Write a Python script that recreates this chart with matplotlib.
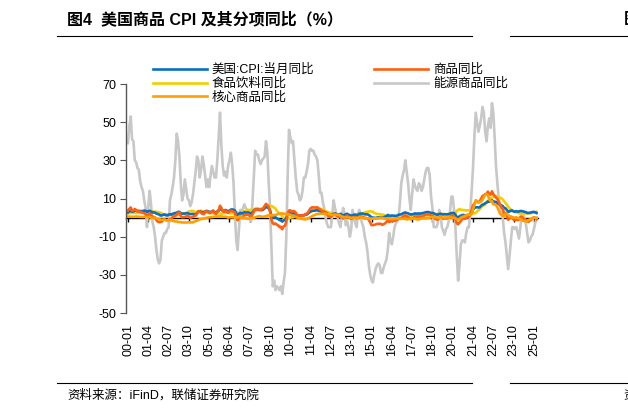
import numpy as np
import matplotlib
matplotlib.use('Agg')
import matplotlib.pyplot as plt

plt.rcParams['font.family'] = ['Liberation Sans', 'Noto Sans CJK SC']
plt.rcParams['axes.unicode_minus'] = False

# 月度数据 2000-01 ~ 2025-03，同比 %
cpi = [2.7, 3.2, 3.8, 3.1, 3.2, 3.7, 3.7, 3.4, 3.5, 3.4, 3.4, 3.4,
       3.7, 3.5, 2.9, 3.3, 3.6, 3.2, 2.7, 2.7, 2.6, 2.1, 1.9, 1.6,
       1.1, 1.1, 1.5, 1.6, 1.2, 1.1, 1.5, 1.8, 1.5, 2.0, 2.2, 2.4,
       2.6, 3.0, 3.0, 2.2, 2.1, 2.1, 2.1, 2.2, 2.3, 2.0, 1.8, 1.9,
       1.9, 1.7, 1.7, 2.3, 3.1, 3.3, 3.0, 2.7, 2.5, 3.2, 3.5, 3.3,
       3.0, 3.0, 3.1, 3.5, 2.8, 2.5, 3.2, 3.6, 4.7, 4.3, 3.5, 3.4,
       4.0, 3.6, 3.4, 3.5, 4.2, 4.3, 4.1, 3.8, 2.1, 1.3, 2.0, 2.5,
       2.1, 2.4, 2.8, 2.6, 2.7, 2.7, 2.4, 2.0, 2.8, 3.5, 4.3, 4.1,
       4.3, 4.0, 4.0, 3.9, 4.2, 5.0, 5.6, 5.4, 4.9, 3.7, 1.1, 0.1,
       0.0, 0.2, -0.4, -0.7, -1.3, -1.4, -2.1, -1.5, -1.3, -0.2, 1.8, 2.7,
       2.6, 2.1, 2.3, 2.2, 2.0, 1.1, 1.2, 1.1, 1.1, 1.2, 1.1, 1.5,
       1.6, 2.1, 2.7, 3.2, 3.6, 3.6, 3.6, 3.8, 3.9, 3.5, 3.4, 3.0,
       2.9, 2.9, 2.7, 2.3, 1.7, 1.7, 1.4, 1.7, 2.0, 2.2, 1.8, 1.7,
       1.6, 2.0, 1.5, 1.1, 1.4, 1.8, 2.0, 1.5, 1.2, 1.0, 1.2, 1.5,
       1.6, 1.1, 1.5, 2.0, 2.1, 2.1, 2.0, 1.7, 1.7, 1.7, 1.3, 0.8,
       -0.1, 0.0, -0.1, -0.2, 0.0, 0.1, 0.2, 0.2, 0.0, 0.2, 0.5, 0.7,
       1.4, 1.0, 0.9, 1.1, 1.0, 1.0, 0.8, 1.1, 1.5, 1.6, 1.7, 2.1,
       2.5, 2.7, 2.4, 2.2, 1.9, 1.6, 1.7, 1.9, 2.2, 2.0, 2.2, 2.1,
       2.1, 2.2, 2.4, 2.5, 2.8, 2.9, 2.9, 2.7, 2.3, 2.5, 2.2, 1.9,
       1.6, 1.5, 1.9, 2.0, 1.8, 1.6, 1.8, 1.7, 1.7, 1.8, 2.1, 2.3,
       2.5, 2.3, 1.5, 0.3, 0.1, 0.6, 1.0, 1.3, 1.4, 1.2, 1.2, 1.4,
       1.4, 1.7, 2.6, 4.2, 5.0, 5.4, 5.4, 5.3, 5.4, 6.2, 6.8, 7.0,
       7.5, 7.9, 8.5, 8.3, 8.6, 9.1, 8.5, 8.3, 8.2, 7.7, 7.1, 6.5,
       6.4, 6.0, 5.0, 4.9, 4.0, 3.0, 3.2, 3.7, 3.7, 3.2, 3.1, 3.4,
       3.1, 3.2, 3.5, 3.4, 3.3, 3.0, 2.9, 2.5, 2.4, 2.6, 2.7, 2.9,
       3.0, 2.8, 2.4]

goods = [3.8, 4.6, 5.3, 3.6, 3.7, 4.5, 4.0, 3.2, 3.5, 3.0, 2.8, 2.4,
         2.3, 1.7, 0.8, 1.4, 2.2, 1.5, 0.2, 0.4, 0.1, -1.3, -2.1, -2.4,
         -2.3, -2.1, -1.2, -0.8, -1.2, -1.4, -1.2, -0.8, -1.0, 0.3, 0.6, 0.9,
         1.6, 2.5, 2.6, 0.8, 0.1, 0.3, 0.3, 0.6, 1.1, 0.3, -0.1, 0.1,
         0.4, 0.9, 1.0, 2.0, 3.3, 3.2, 2.5, 2.0, 1.8, 2.9, 3.5, 3.0,
         2.4, 2.6, 3.1, 3.7, 2.4, 1.9, 3.2, 4.0, 6.2, 5.1, 3.5, 3.0,
         3.7, 3.0, 2.5, 3.2, 3.6, 3.4, 3.1, 2.6, 0.0, -1.4, -0.3, 0.6,
         0.1, 0.6, 1.5, 1.3, 1.5, 1.5, 1.0, 0.2, 1.6, 2.9, 4.4, 4.0,
         4.3, 4.0, 4.2, 4.2, 4.8, 6.1, 7.2, 6.6, 5.5, 3.2, -1.1, -3.0,
         -3.4, -3.1, -3.7, -4.1, -5.0, -4.8, -6.1, -4.6, -4.3, -2.1, 2.0, 3.7,
         3.8, 3.1, 3.5, 3.3, 2.6, 1.0, 1.2, 1.0, 0.9, 1.2, 1.1, 1.8,
         2.1, 2.6, 3.9, 4.9, 5.4, 5.3, 5.3, 5.3, 5.4, 4.7, 4.3, 3.7,
         3.3, 3.2, 2.6, 1.8, 0.8, 0.5, 0.3, 1.1, 1.8, 2.0, 1.0, 0.7,
         0.3, 1.1, 0.2, -0.4, 0.0, 0.6, 1.1, 0.3, -0.1, -0.6, -0.4, 0.2,
         0.3, -0.4, 0.0, 0.6, 0.6, 0.5, 0.3, -0.3, -0.2, -0.4, -1.3, -2.5,
         -4.0, -3.9, -3.8, -3.6, -3.3, -3.3, -3.2, -3.3, -3.8, -3.4, -3.0, -2.3,
         -1.4, -2.3, -2.0, -1.8, -1.7, -1.7, -1.5, -1.1, -0.6, -0.3, -0.2, 0.3,
         1.0, 1.2, 0.7, 0.3, -0.3, -0.7, -0.6, -0.3, 0.6, 0.4, 0.6, 0.6,
         0.5, 0.5, 0.5, 1.2, 1.6, 1.8, 1.7, 1.5, 0.8, 0.8, 0.1, -0.6,
         -1.0, -1.0, -0.1, 0.5, 0.1, -0.6, -0.2, -0.4, -0.4, 0.0, 0.4, 0.9,
         1.1, 0.5, -0.8, -3.0, -3.5, -2.6, -1.8, -0.8, -0.5, -0.6, -0.3, 0.1,
         0.5, 1.4, 3.8, 6.3, 7.4, 8.4, 8.4, 8.2, 8.5, 9.9, 11.3, 11.6,
         12.3, 12.3, 13.6, 12.3, 12.0, 13.8, 12.3, 11.3, 10.5, 9.8, 8.3, 6.7,
         5.3, 4.7, 2.0, 2.4, 0.9, -1.1, -0.3, 0.5, 0.2, -1.1, -1.4, -0.6,
         -1.3, -1.0, 0.4, 0.4, -0.2, -1.1, -1.0, -1.9, -2.2, -1.6, -1.2, -0.2,
         0.1, -0.2, -0.9]

food = [2.1, 2.3, 2.4, 2.4, 2.5, 2.4, 2.3, 2.4, 2.5, 2.4, 2.6, 2.7,
        2.9, 3.0, 2.9, 3.2, 3.3, 3.1, 3.1, 3.2, 3.1, 3.0, 2.9, 2.8,
        2.6, 2.2, 1.8, 1.7, 1.8, 1.6, 1.5, 1.4, 1.4, 1.6, 1.5, 1.5,
        1.3, 1.3, 1.6, 2.0, 2.0, 2.2, 2.1, 2.5, 2.7, 3.2, 3.4, 3.5,
        3.5, 3.1, 2.8, 3.1, 3.3, 3.5, 3.6, 3.4, 3.2, 2.9, 2.7, 2.7,
        2.4, 2.3, 2.5, 2.3, 2.5, 2.2, 2.1, 2.2, 2.2, 2.0, 2.1, 2.3,
        2.4, 2.6, 2.6, 2.2, 2.2, 2.2, 2.2, 2.2, 2.3, 2.7, 2.1, 2.1,
        2.8, 3.1, 3.2, 3.5, 4.0, 4.0, 4.0, 4.0, 4.1, 4.2, 4.7, 4.9,
        4.9, 4.6, 4.5, 4.9, 5.1, 5.3, 5.8, 6.1, 6.2, 6.2, 6.0, 5.8,
        5.2, 4.8, 3.5, 2.9, 2.0, 1.6, 0.6, -0.1, -0.4, -0.5, -0.5, -0.5,
        -0.1, 0.3, 0.1, 0.5, 0.7, 0.6, 0.8, 1.0, 1.2, 1.3, 1.5, 1.6,
        1.8, 2.1, 2.8, 3.0, 3.2, 3.6, 3.9, 4.1, 4.5, 4.6, 4.6, 4.5,
        4.2, 3.8, 3.2, 3.1, 2.8, 2.6, 2.3, 2.0, 1.6, 1.7, 1.8, 1.7,
        1.6, 1.6, 1.5, 1.5, 1.4, 1.4, 1.3, 1.4, 1.4, 1.3, 1.3, 1.2,
        1.3, 1.4, 1.7, 2.0, 2.4, 2.3, 2.3, 2.6, 3.0, 3.0, 3.2, 3.4,
        3.1, 3.1, 2.4, 2.2, 1.8, 1.9, 1.8, 1.6, 1.6, 1.4, 1.2, 0.8,
        0.8, 0.8, 0.8, 0.7, 0.6, 0.3, 0.2, 0.0, -0.1, -0.2, -0.2, -0.2,
        -0.1, 0.0, 0.4, 0.5, 0.8, 0.9, 1.0, 1.1, 1.2, 1.3, 1.4, 1.6,
        1.6, 1.3, 1.3, 1.4, 1.2, 1.4, 1.3, 1.4, 1.4, 1.2, 1.4, 1.6,
        1.6, 2.0, 2.0, 1.8, 1.9, 1.9, 1.8, 1.7, 1.8, 2.0, 2.0, 1.8,
        1.8, 1.8, 1.9, 3.5, 4.0, 4.5, 4.1, 4.1, 3.9, 3.9, 3.7, 3.9,
        3.7, 3.5, 3.4, 2.4, 2.2, 2.4, 3.3, 3.7, 4.5, 5.3, 6.1, 6.3,
        7.0, 7.9, 8.8, 9.4, 10.1, 10.4, 10.9, 11.4, 11.2, 10.9, 10.6, 10.4,
        10.1, 9.5, 8.5, 7.7, 6.7, 5.7, 4.9, 4.3, 3.7, 3.3, 2.9, 2.7,
        2.6, 2.2, 2.2, 2.2, 2.1, 2.2, 2.2, 2.1, 2.3, 2.1, 2.4, 2.5,
        2.5, 2.6, 3.0]

energy = [39, 48, 53, 41, 40, 30, 29, 26, 25, 19, 16, 14,
          9, 5, -5, 6, 14, 7, -2, -5, -10, -17, -22, -24,
          -22, -12, -10, -8, -8, -6, -5, 9, 12, 16, 21, 30,
          44, 40, 32, 18, 9, 12, 20, 15, 10, 9, 6, 8,
          12, 18, 24, 32, 30, 21, 25, 32, 28, 22, 16, 20,
          16, 22, 27, 24, 21, 21, 30, 42, 55, 38, 27, 22,
          24, 21, 27, 30, 34, 28, 18, 2, -12, -17, -6, 4,
          2, 5, 7, 5, 4, 3, 0, -2, 8, 22, 35, 33,
          33, 30, 28, 30, 31, 32, 40, 34, 18, 5, -15, -36,
          -33, -38, -36, -37, -38, -36, -40, -34, -29, -10, 22, 46,
          42, 39, 40, 30, 21, 14, 12, 9, 10, 14, 21, 21,
          24, 28, 35, 36, 35, 35, 33, 32, 30, 22, 13, 13,
          8, 5, 0, -3, -5, -5, -5, 2, 9, 5, 2, 0,
          -3, -5, 0, 5, 2, -4, -2, -5, -10, -6, 4, 0,
          -3, -5, 2, 4, 0, -3, -5, -10, -13, -18, -25, -30,
          -33, -34, -30, -27, -25, -24, -25, -29, -29, -26, -24, -22,
          -17, -8, -12, -14, -10, -5, -3, -2, 0, 8, 18, 22,
          25, 30, 24, 18, 10, 4, 12, 20, 17, 15, 14, 18,
          17, 14, 16, 20, 24, 26, 26, 22, 11, 5, -5, -5,
          -5, -3, 4, 2, -5, -7, -9, -6, -5, -2, 3, 11,
          11, 4, -5, -20, -33, -25, -14, -12, -12, -13, -8, -5,
          -5, 3, 14, 26, 42, 55, 50, 45, 48, 52, 58, 55,
          45, 40, 48, 52, 47, 60, 55, 42, 27, 18, 10, 7,
          3, 0, -8, -13, -20, -27, -20, -12, -5, -5, -6, -5,
          -8, -11, -5, 2, 2, 0, -3, -8, -13, -12, -10, -9,
          -6, -3, 0]

core = [0.5, 0.5, 0.5, 0.4, 0.5, 0.4, 0.6, 0.4, 0.5, 0.3, 0.4, 0.3,
        0.4, 0.3, 0.3, 0.2, 0.2, 0.0, -0.2, -0.2, 0.1, -0.4, -0.7, -0.9,
        -1.0, -1.1, -1.1, -1.1, -1.4, -1.5, -1.4, -1.3, -1.4, -1.7, -1.9, -2.0,
        -2.0, -2.3, -2.3, -2.4, -2.6, -2.5, -2.6, -2.6, -2.5, -2.4, -2.6, -2.5,
        -2.5, -2.1, -1.9, -1.6, -1.2, -0.9, -0.8, -0.7, -0.5, -0.3, -0.1, 0.0,
        0.1, 0.2, 0.3, 0.3, 0.5, 0.6, 0.5, 0.6, 0.7, 0.6, 0.5, 0.4,
        0.5, 0.3, 0.0, 0.1, 0.3, 0.1, 0.2, 0.3, 0.1, 0.0, 0.4, 0.5,
        0.0, -0.2, -0.2, -0.3, -0.6, -0.6, -0.4, -0.3, -0.2, -0.1, 0.1, 0.4,
        0.5, 0.8, 0.6, 0.4, 0.5, 0.6, 0.7, 1.1, 1.1, 1.3, 1.2, 1.1,
        1.4, 1.4, 1.6, 1.9, 2.1, 2.2, 2.2, 2.0, 2.0, 1.9, 1.7, 1.6,
        1.6, 1.1, 0.8, 0.6, 0.3, 0.0, -0.3, -0.5, -0.6, -0.7, -0.9, -0.9,
        -0.8, -0.4, -0.1, 0.3, 0.7, 1.1, 1.3, 1.7, 1.9, 1.9, 2.0, 2.0,
        2.0, 2.0, 2.0, 2.0, 1.9, 1.8, 1.6, 1.4, 1.3, 1.4, 1.4, 1.5,
        1.5, 0.9, 0.6, 0.4, 0.1, 0.1, 0.1, 0.0, -0.1, -0.1, -0.1, -0.1,
        -0.2, -0.2, -0.1, 0.1, 0.1, 0.0, -0.2, -0.2, -0.3, -0.4, -0.5, -0.5,
        -0.5, -0.6, -0.4, -0.3, -0.4, -0.4, -0.1, 0.0, -0.1, -0.4, -0.5, -0.5,
        -0.4, -0.3, -0.4, -0.7, -0.8, -0.6, -0.6, -0.4, -0.5, -0.7, -0.7, -0.6,
        -0.7, -0.6, -1.0, -0.8, -0.6, -0.9, -0.6, -0.5, -0.4, -0.9, -0.9, -1.0,
        -0.6, -0.4, -0.3, -0.3, -0.3, -0.1, -0.1, -0.1, 0.2, 0.2, 0.2, 0.2,
        0.1, -0.1, -0.1, 0.1, 0.1, 0.0, 0.0, 0.1, 0.1, 0.1, 0.1, 0.0,
        -0.1, -0.1, -0.3, -0.9, -1.0, -0.7, -0.1, 0.4, 0.4, 1.0, 1.1, 1.4,
        1.7, 1.3, 1.7, 4.4, 6.5, 9.1, 8.7, 7.8, 8.2, 8.4, 9.4, 10.7,
        11.7, 12.3, 11.7, 9.7, 8.5, 8.6, 7.0, 7.0, 6.6, 5.4, 3.7, 2.1,
        1.3, 1.0, 0.6, 2.0, 2.0, 1.3, 0.8, 0.2, 0.0, 0.0, 0.0, 0.2,
        -0.3, -0.3, -0.7, -1.2, -1.7, -1.8, -1.9, -1.9, -1.2, -1.0, -0.7, -0.5,
        -0.1, -0.1, -0.1]

tick_labels = ['00-01', '01-04', '02-07', '03-10', '05-01', '06-04', '07-07',
               '08-10', '10-01', '11-04', '12-07', '13-10', '15-01', '16-04',
               '17-07', '18-10', '20-01', '21-04', '22-07', '23-10', '25-01']

x = np.arange(len(cpi))
tick_pos = np.arange(len(tick_labels)) * 15

fig = plt.figure(figsize=(6.28, 4.13), dpi=100)
ax = fig.add_axes([0.2006, 0.2421, 0.656, 0.5545])

lw = 1.9
l_energy, = ax.plot(x, energy, color='#c8c8c8', lw=lw, label='能源商品同比')
l_food, = ax.plot(x, food, color='#f2cf00', lw=lw, label='食品饮料同比')
l_cpi, = ax.plot(x, cpi, color='#0a6fc2', lw=lw, label='美国:CPI:当月同比')
l_goods, = ax.plot(x, goods, color='#ff5f0f', lw=lw, label='商品同比')
l_core, = ax.plot(x, core, color='#ffa000', lw=lw, label='核心商品同比')

ax.set_ylim(-50, 70)
ax.set_yticks([-50, -30, -10, 10, 30, 50, 70])
ax.set_xlim(-1.5, 303)
ax.set_xticks(tick_pos)
ax.set_xticklabels(tick_labels, rotation=90, fontsize=9)
ax.tick_params(axis='x', length=0, pad=8)
ax.tick_params(axis='y', labelsize=9, length=4, color='#555555', pad=3)

for s in ['top', 'right', 'bottom']:
    ax.spines[s].set_visible(False)
ax.spines['left'].set_color('#555555')
ax.spines['left'].set_linewidth(1.0)

# 零轴带刻度
zero_ax = ax.secondary_xaxis(50 / 120)
zero_ax.set_xticks(tick_pos)
zero_ax.set_xticklabels([])
zero_ax.tick_params(length=3, width=1, direction='out', color='black')
zero_ax.spines['bottom'].set_color('black')
zero_ax.spines['bottom'].set_linewidth(1.0)

handles = [l_cpi, l_food, l_core, l_goods, l_energy]
ax.legend(handles=handles, labels=[h.get_label() for h in handles], ncol=2,
          loc='upper left', bbox_to_anchor=(0.05, 1.115), frameon=False,
          fontsize=9, handlelength=4.3, columnspacing=4.8,
          labelspacing=0.12, handletextpad=0.4, borderpad=0)

# 标题、来源
fig.text(0.107, 0.952, '图4  美国商品 CPI 及其分项同比（%）', fontsize=11.5,
         fontweight='bold', va='center', ha='left')
fig.text(0.107, 0.043, '资料来源：iFinD，联储证券研究院', fontsize=9,
         va='center', ha='left')
fig.add_artist(plt.Line2D([0.091, 0.752], [0.913, 0.913], color='black', lw=0.8))
fig.add_artist(plt.Line2D([0.812, 1.0], [0.913, 0.913], color='black', lw=0.8))
fig.add_artist(plt.Line2D([0.091, 0.752], [0.073, 0.073], color='black', lw=0.8))
fig.add_artist(plt.Line2D([0.812, 1.0], [0.073, 0.073], color='black', lw=0.8))
fig.text(0.993, 0.952, '图', fontsize=11.5, fontweight='bold', va='center', ha='left')
fig.text(0.993, 0.043, '资', fontsize=9, va='center', ha='left')

fig.savefig('out.png', dpi=100)
